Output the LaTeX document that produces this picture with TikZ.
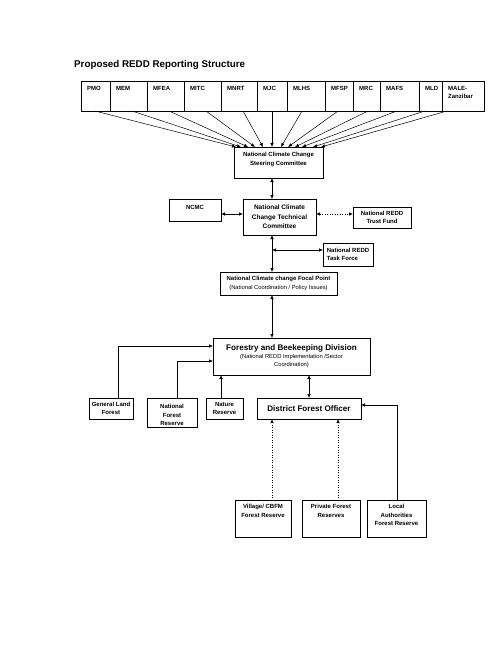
\documentclass[tikz,border=0pt]{standalone}
\usepackage{fontspec}
\setmainfont{Liberation Sans}
\usetikzlibrary{arrows.meta,calc}
\newcommand\fsm{\fontsize{6}{8.5}\selectfont\bfseries}
\newcommand\fsr{\fontsize{5.8}{8.5}\selectfont\mdseries}
\newcommand\fmid{\fontsize{6.5}{9.5}\selectfont\bfseries}
\newcommand\fbig{\fontsize{8.1}{10}\selectfont\bfseries}
\begin{document}
\begin{tikzpicture}[x=1pt,y=-1pt,
  bx/.style={draw, line width=0.6pt, anchor=north west, inner sep=1pt, outer sep=0pt, align=center, font=\fsm},
  tl/.style={anchor=north west, inner sep=0pt, xshift=6pt, yshift=-5pt, font=\fsm, align=left},
  tc/.style={anchor=north, inner sep=0pt, yshift=-5pt, font=\fsm, align=center},
  ar/.style={line width=0.5pt, -{Latex[length=4pt,width=3.4pt]}},
  dar/.style={line width=0.5pt, {Latex[length=4pt,width=3.4pt]}-{Latex[length=4pt,width=3.4pt]}},
  dots/.style={dotted, line width=0.6pt}]
\useasboundingbox (0,0) rectangle (500,647);
\node[font=\fontsize{9.8}{12}\selectfont\bfseries, anchor=base west, inner sep=0pt] (title) at (74,68) {Proposed REDD Reporting Structure};
% top row
\node[bx, minimum width=29pt, minimum height=30pt, label={[tl]north west:PMO}] (pmo) at (81,81) {};
\node[bx, minimum width=37pt, minimum height=30pt, label={[tl]north west:MEM}] (mem) at (110,81) {};
\node[bx, minimum width=37pt, minimum height=30pt, label={[tl]north west:MFEA}] (mfea) at (147,81) {};
\node[bx, minimum width=37pt, minimum height=30pt, label={[tl]north west:MITC}] (mitc) at (184,81) {};
\node[bx, minimum width=36pt, minimum height=30pt, label={[tl]north west:MNRT}] (mnrt) at (221,81) {};
\node[bx, minimum width=30pt, minimum height=30pt, label={[tl]north west:MJC}] (mjc) at (257,81) {};
\node[bx, minimum width=38pt, minimum height=30pt, label={[tl]north west:MLHS}] (mlhs) at (287,81) {};
\node[bx, minimum width=28pt, minimum height=30pt, label={[tl]north west:MFSP}] (mfsp) at (325,81) {};
\node[bx, minimum width=27pt, minimum height=30pt, label={[tl]north west:MRC}] (mrc) at (353,81) {};
\node[bx, minimum width=39pt, minimum height=30pt, label={[tl]north west:MAFS}] (mafs) at (380,81) {};
\node[bx, minimum width=23pt, minimum height=30pt, label={[tl]north west:MLD}] (mld) at (419,81) {};
\node[bx, minimum width=42pt, minimum height=30pt, label={[tl]north west:{MALE-\\Zanzibar}}] (male) at (442,81) {};
% committees
\node[bx, minimum width=89pt, minimum height=31pt, label={[tc]north:{National Climate Change\\Steering Committee}}] (steer) at (234,147) {};
\node[bx, minimum width=52pt, minimum height=22pt, label={[tc,yshift=-1pt]north:NCMC}] (ncmc) at (169,199) {};
\node[bx, minimum width=73pt, minimum height=36pt, font=\fmid] (tech) at (243,199) {National Climate\\Change Technical\\Committee};
\node[bx, minimum width=58pt, minimum height=21pt] (trust) at (353,207) {National REDD\\Trust Fund};
\node[bx, minimum width=50pt, minimum height=23pt, align=left] (task) at (323,243) {National REDD\\Task Force};
\node[bx, minimum width=117pt, minimum height=23pt] (focal) at (220,272) {{\fsm National Climate change Focal Point}\\{\fsr(National Coordination / Policy Issues)}};
\node[bx, minimum width=157pt, minimum height=37pt] (forestry) at (213,338) {{\fbig Forestry and Beekeeping Division}\\[-1pt]{\fsr(National REDD Implementation /Sector}\\{\fsr Coordination)}};
% lower boxes
\node[bx, minimum width=44pt, minimum height=21pt] (gen) at (89,398) {General Land\\Forest};
\node[bx, minimum width=50pt, minimum height=29pt, label={[tc,yshift=-1pt]north:{National\\Forest\\Reserve}}] (nfr) at (147,398) {};
\node[bx, minimum width=37pt, minimum height=21pt] (nat) at (206,398) {Nature\\Reserve};
\node[bx, minimum width=104pt, minimum height=21pt, font=\fbig] (dfo) at (257,398) {District Forest Officer};
\node[bx, minimum width=56pt, minimum height=37pt, label={[tc,yshift=1pt]north:{Village/ CBFM\\Forest Reserve}}] (vil) at (235,500) {};
\node[bx, minimum width=58pt, minimum height=37pt, label={[tc,yshift=1pt]north:{Private Forest\\Reserves}}] (pri) at (302,500) {};
\node[bx, minimum width=59pt, minimum height=37pt, label={[tc,yshift=1pt]north:{Local\\Authorities\\Forest Reserve}}] (loc) at (367,500) {};
% connectors from ministries
\foreach \n/\a/\b in {pmo/14/2, mem/22/7, mfea/22/14, mitc/22/21, mnrt/22/29, mjc/15/38, mlhs/15/47, mfsp/13/54, mrc/15/61, mafs/17/68, mld/6/79, male/5/87}
  \draw[ar] ($(\n.south west)+(\a,0)$) -- ($(steer.north west)+(\b,0)$);
\draw[dar] ($(steer.south west)+(38,0)$) -- ($(tech.north west)+(29,0)$);
\draw[dar] ($(ncmc.north east)+(0,15)$) -- ($(tech.north west)+(0,15)$);
\draw[dar, dots] ($(tech.north east)+(0,15)$) -- ($(trust.north west)+(0,7)$);
\draw[dar] ($(tech.south west)+(29,0)$) -- ($(focal.north west)+(52,0)$);
\coordinate (tj) at ($(tech.south west)+(29,15)$);
\draw[dar] (tj) -- (task.west |- tj);
\draw[dar] ($(focal.south west)+(52,0)$) -- ($(forestry.north west)+(59,0)$);
\draw[ar] ($(gen.north west)+(29,0)$) |- ($(forestry.north west)+(0,8)$);
\draw[ar] ($(nfr.north west)+(30,0)$) |- ($(forestry.north west)+(0,23)$);
\draw[ar] ($(nat.north west)+(15,0)$) -- ($(forestry.south west)+(8,0)$);
\draw[dar] ($(forestry.south west)+(96,0)$) -- ($(dfo.north west)+(52,0)$);
\draw[ar, dots] ($(vil.north west)+(37,0)$) -- ($(dfo.south west)+(15,0)$);
\draw[ar, dots] ($(pri.north west)+(36,0)$) -- ($(dfo.south west)+(81,0)$);
\draw[ar] ($(loc.north west)+(30,0)$) |- ($(dfo.north east)+(0,7)$);
\end{tikzpicture}
\end{document}
